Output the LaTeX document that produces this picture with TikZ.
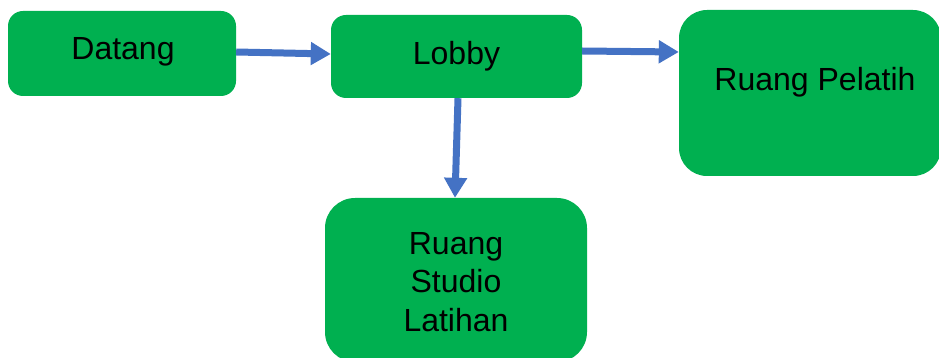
\documentclass[tikz,border=0pt]{standalone}
\usepackage{fontspec}
\setmainfont{Liberation Sans}
\usetikzlibrary{arrows.meta,calc}
\definecolor{boxgreen}{HTML}{00B050}
\definecolor{arrblue}{HTML}{4472C4}
\tikzset{
  box/.style={fill=boxgreen, draw=none, inner sep=0pt},
  txt/.style={font=\fontsize{32}{38.5}\selectfont, text=black, align=center, inner sep=0pt},
  arr/.style={draw=arrblue, line width=7pt, -{Triangle[length=20pt,width=22pt]}}
}
\begin{document}
\begin{tikzpicture}[x=1pt,y=-1pt]
\useasboundingbox (0,0) rectangle (939,358);
\fill[white] (0,0) rectangle (939,358);
\node[box, rounded corners=15pt, minimum width=228pt, minimum height=85pt] (dat) at (122,53.5) {};
\node[txt] (datt) at (123,52) {Datang};
\node[box, rounded corners=15pt, minimum width=251pt, minimum height=83pt] (lob) at (456.5,56.5) {};
\node[txt] (lobt) at (lob.center) {Lobby};
\node[box, rounded corners=28pt, minimum width=262pt, minimum height=166pt] (pel) at (810,93) {};
\node[txt] (pelt) at (815,82) {Ruang Pelatih};
\node[box, rounded corners=30pt, minimum width=262pt, minimum height=164pt] (stu) at (456,280) {};
\node[txt] (stut) at (456,282) {Ruang\\Studio\\Latihan};
\draw[arr] ($(dat.east)+(0,-1.5)$) -- ($(lob.west)+(0,-2.5)$);
\draw[arr] ($(lob.east)+(0,-5.5)$) -- ($(pel.west)+(0,-41)$);
\draw[arr] ($(lob.south)+(1.5,0)$) -- ($(stu.north)+(-1,0)$);
\end{tikzpicture}
\end{document}
